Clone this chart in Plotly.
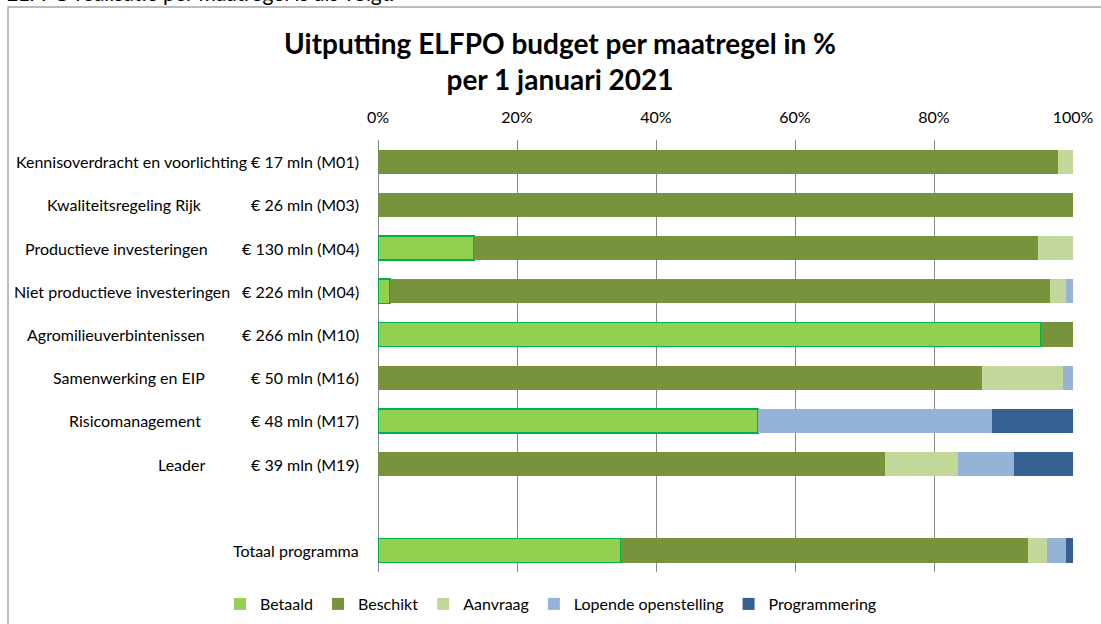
import plotly.graph_objects as go

# ---- data ----
categories = ["Kennisoverdracht en voorlichting", "Kwaliteitsregeling Rijk", "Productieve investeringen",
              "Niet productieve investeringen", "Agromilieuverbintenissen", "Samenwerking en EIP",
              "Risicomanagement", "Leader", " ", "Totaal programma"]
budgets = ["€ 17 mln (M01)", "€ 26 mln (M03)", "€ 130 mln (M04)", "€ 226 mln (M04)", "€ 266 mln (M10)",
           "€ 50 mln (M16)", "€ 48 mln (M17)", "€ 39 mln (M19)", "", ""]
betaald = [0, 0, 13.8, 1.7, 95.4, 0, 54.7, 0, 0, 34.9]
beschikt = [97.8, 100, 81.2, 95.0, 4.6, 86.9, 0, 73.0, 0, 58.6]
aanvraag = [2.2, 0, 5.0, 2.3, 0, 11.7, 0, 10.5, 0, 2.8]
lopende = [0, 0, 0, 1.0, 0, 1.4, 33.6, 8.0, 0, 2.7]
programmering = [0, 0, 0, 0, 0, 0, 11.7, 8.5, 0, 1.0]
xticks = [0, 20, 40, 60, 80, 100]
xticklabels = ["0%", "20%", "40%", "60%", "80%", "100%"]

# ---- layout geometry (pixels) ----
W, H = 1101, 624
PL, PR, PT, PB = 378, 1073, 140, 572
def px_x(p):
    return (p - PL) / (PR - PL)
def px_y(p):
    return (PB - p) / (PB - PT)

name_right = [249, 204, 210, 232, 207, 207, 203, 207, 0, 361]

FONT = "Lato, 'Open Sans', sans-serif"
FS = 16

fig = go.Figure()
series = [
    ("Betaald", betaald, "#92D050", "#00B050"),
    ("Beschikt", beschikt, "#77933C", None),
    ("Aanvraag", aanvraag, "#C4D79B", None),
    ("Lopende openstelling", lopende, "#95B3D7", None),
    ("Programmering", programmering, "#366092", None),
]
for name, vals, col, lc in series:
    if lc:
        line = dict(color=lc, width=[1.6 if v > 0 else 0 for v in vals])
    else:
        line = dict(color=col, width=0)
    fig.add_trace(go.Bar(name=name, y=categories, x=vals, orientation="h",
                         marker=dict(color=col, line=line), width=0.56))

annotations = []
for i, cat in enumerate(categories):
    if cat.strip():
        annotations.append(dict(text=cat, x=px_x(name_right[i]), xref="paper", xanchor="right",
                                y=cat, yref="y", yanchor="middle", showarrow=False,
                                font=dict(family=FONT, size=FS, color="#000000")))
    if budgets[i]:
        annotations.append(dict(text=budgets[i], x=px_x(361), xref="paper", xanchor="right",
                                y=cat, yref="y", yanchor="middle", showarrow=False,
                                font=dict(family=FONT, size=FS, color="#000000")))

annotations.append(dict(text="<b>Uitputting ELFPO budget per maatregel in %<br>per 1 januari 2021</b>",
                        x=px_x(560), xref="paper", xanchor="center", y=px_y(61), yref="paper",
                        yanchor="middle", showarrow=False, align="center",
                        font=dict(family=FONT, size=28, color="#000000")))
annotations.append(dict(text="ELFPO realisatie per maatregel is als volgt.",
                        x=px_x(4), xref="paper", xanchor="left", y=px_y(7), yref="paper",
                        yanchor="bottom", showarrow=False,
                        font=dict(family=FONT, size=21, color="#000000")))

fig.update_layout(
    width=W, height=H, barmode="stack",
    margin=dict(l=PL, r=W - PR, t=PT, b=H - PB, autoexpand=False),
    paper_bgcolor="white", plot_bgcolor="white",
    font=dict(family=FONT, size=FS, color="#000000"),
    showlegend=True,
    legend=dict(orientation="h", x=px_x(551), xanchor="center", y=px_y(604), yanchor="middle",
                font=dict(family=FONT, size=FS, color="#000000"), itemwidth=30, traceorder="normal",
                tracegroupgap=0),
    annotations=annotations,
    shapes=[dict(type="rect", xref="paper", yref="paper", x0=px_x(8), x1=px_x(1130),
                 y0=px_y(660), y1=px_y(7), line=dict(color="#A6A6A6", width=1.5), layer="below")],
)
fig.update_xaxes(range=[0, 100], tickmode="array", tickvals=xticks, ticktext=xticklabels,
                 side="top", showgrid=True, ticklabelstandoff=13, automargin=False,
                 gridcolor="#868686", gridwidth=1, zeroline=True, zerolinecolor="#868686",
                 zerolinewidth=1, showline=False, ticks="", tickfont=dict(family=FONT, size=FS))
fig.update_yaxes(autorange="reversed", showticklabels=False, showgrid=False, zeroline=False,
                 ticks="", type="category", automargin=False)

fig.write_html("out.html")
